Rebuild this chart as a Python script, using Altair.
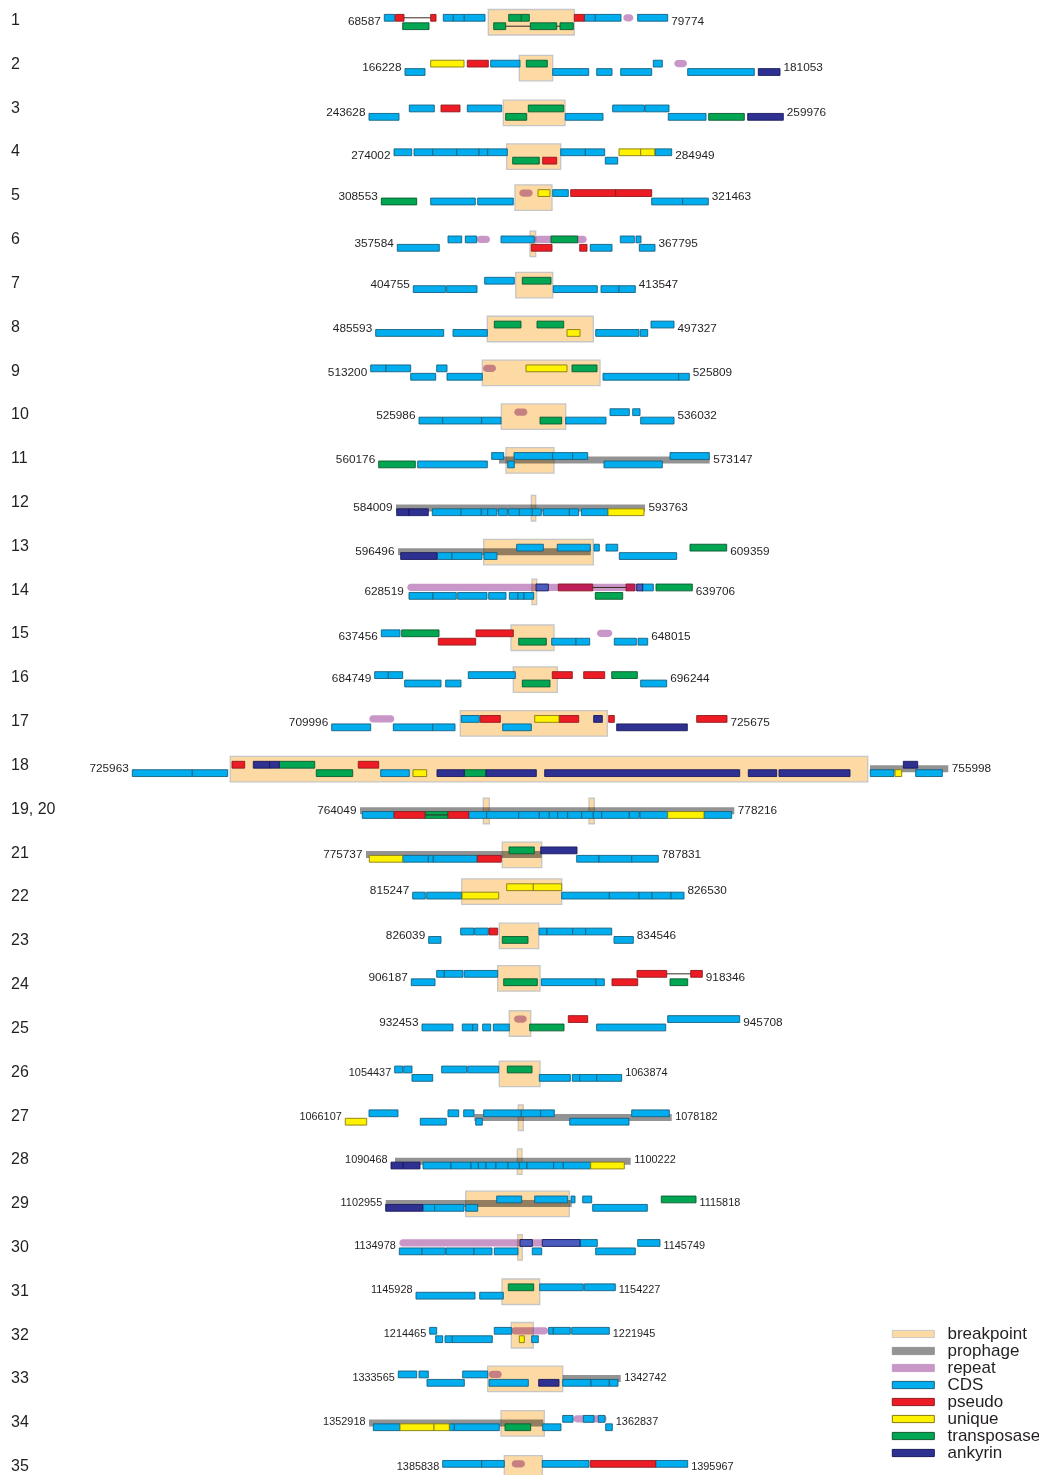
import altair as alt
import pandas as pd

# ---------------- data ----------------
ROW_LABELS = ["1", "2", "3", "4", "5", "6", "7", "8", "9", "10", "11", "12", "13", "14",
              "15", "16", "17", "18", "19, 20", "21", "22", "23", "24", "25", "26", "27",
              "28", "29", "30", "31", "32", "33", "34", "35"]
START_COORD = [68587, 166228, 243628, 274002, 308553, 357584, 404755, 485593, 513200, 525986,
               560176, 584009, 596496, 628519, 637456, 684749, 709996, 725963, 764049, 775737,
               815247, 826039, 906187, 932453, 1054437, 1066107, 1090468, 1102955, 1134978,
               1145928, 1214465, 1333565, 1352918, 1385838]
END_COORD = [79774, 181053, 259976, 284949, 321463, 367795, 413547, 497327, 525809, 536032,
             573147, 593763, 609359, 639706, 648015, 696244, 725675, 755998, 778216, 787831,
             826530, 834546, 918346, 945708, 1063874, 1078182, 1100222, 1115818, 1145749,
             1154227, 1221945, 1342742, 1362837, 1395967]

# (row, strand track, start, end) in aligned map units
CDS = [
    ("1","u",384.3,394.7),("1","u",443.3,453.3),("1","u",453.3,464.3),("1","u",464.3,485),("1","u",584.3,595.3),("1","u",595.3,621),("1","u",637.7,667.7),
    ("2","l",405,425),("2","u",490.7,520),("2","l",552.7,588.7),("2","l",596.7,612),("2","l",620.7,651.7),("2","u",653.3,662.3),("2","l",687.7,754.3),
    ("3","l",369,399),("3","u",409.3,434.3),("3","u",467.3,501.7),("3","l",565.3,603),("3","u",612.7,644.3),("3","u",645,669),("3","l",668.3,706),
    ("4","u",394,411.7),("4","u",414,432.7),("4","u",432.7,456.7),("4","u",456.7,479),("4","u",479,487.7),("4","u",487.7,507.3),("4","u",560.7,585.3),("4","u",585.3,604.7),("4","l",605.3,617.7),("4","u",655,671.7),
    ("5","l",430.7,475.3),("5","l",477.7,513.3),("5","u",552.7,568.3),("5","l",651.7,682.7),("5","l",682.7,708.3),
    ("6","l",397.3,439.3),("6","u",448,461.7),("6","u",465.3,476.7),("6","u",501,534.3),("6","l",590.3,612),("6","u",620.3,634.3),("6","u",636,641),("6","l",639.3,655),
    ("7","l",413.3,445.7),("7","l",446.7,477),("7","u",484.7,514.3),("7","l",553.3,597.3),("7","l",601,619),("7","l",619,635.3),
    ("8","l",375.7,443.7),("8","l",453,487.3),("8","l",595.7,639),("8","l",640.3,647.7),("8","u",651,674),
    ("9","u",370.7,386),("9","u",386,410.7),("9","l",410.7,435.7),("9","u",436.7,447),("9","l",447,482.3),("9","l",603,678.7),("9","l",678.7,689.3),
    ("10","l",419,442.7),("10","l",442.7,481.7),("10","l",481.7,501),("10","l",565.7,606),("10","u",610,629.3),("10","u",632.7,640),("10","l",640.7,674),
    ("11","l",417.7,487.3),("11","u",491.7,503.7),("11","l",507.7,514.3),("11","u",514,552.7),("11","u",552.7,572.7),("11","u",572.7,587.7),("11","l",604,662.3),("11","u",670,709.3),
    ("12","l",432.3,461),("12","l",461,481.3),("12","l",481.3,487.7),("12","l",487.7,497),("12","l",498.3,507.3),("12","l",508.3,519.3),("12","l",519.3,532.3),("12","l",532.3,541.3),("12","l",543,569.3),("12","l",569.3,578.7),("12","l",581.3,608),
    ("13","l",437.3,452),("13","l",452,482),("13","l",484,497),("13","u",516.7,543.3),("13","u",557.3,590.3),("13","u",594,599.3),("13","u",606,617.7),("13","l",619.3,676.7),
    ("14","u",641.7,653.3),("14","l",409,433),("14","l",433,456.3),("14","l",457.7,487),("14","l",488.7,506),("14","l",509.3,518),("14","l",518,524),("14","l",524,533.7),
    ("15","u",381.3,400),("15","l",551.7,576),("15","l",576,589.7),("15","l",614.3,636.3),("15","l",638,647.7),
    ("16","u",374.7,388.3),("16","u",388.3,402.7),("16","l",404.7,441),("16","l",445.7,461),("16","u",468.3,515.3),("16","l",640.7,666.7),
    ("17","l",331.7,370.7),("17","l",393.3,432.7),("17","l",432.7,455),("17","u",461.3,479.3),("17","l",502.7,531.3),
    ("18","l",132.3,192.3),("18","l",192.3,227.7),("18","l",380.7,409.3),("18","l",870.3,894),("18","l",915.7,942.3),
    ("19, 20","l",362.3,393.7),("19, 20","l",468.7,486.7),("19, 20","l",486.7,518.7),("19, 20","l",518.7,539.3),("19, 20","l",539.3,549.3),("19, 20","l",549.3,557.7),("19, 20","l",557.7,567.7),("19, 20","l",567.7,581.7),("19, 20","l",581.7,593.3),("19, 20","l",593.3,601.7),("19, 20","l",601.7,629.3),("19, 20","l",629.3,639.3),("19, 20","l",640,667.7),("19, 20","l",704,731.7),
    ("21","l",402.7,428.3),("21","l",428.3,433.3),("21","l",433.3,477.3),("21","l",576.7,599),("21","l",599,631.7),("21","l",631.7,658.3),
    ("22","l",412.7,425.3),("22","l",426.7,461.7),("22","l",561.7,609.3),("22","l",609.3,639),("22","l",639,652),("22","l",652,671),("22","l",671,684),
    ("23","l",428.7,441),("23","u",460.7,474),("23","u",474.7,488.3),("23","u",539,547),("23","u",547,572.7),("23","u",572.7,585.7),("23","u",585.7,611.7),("23","l",614,633.3),
    ("24","l",411.3,435),("24","u",436.7,444.3),("24","u",444.3,463),("24","u",464.3,497.7),("24","l",541.3,596),("24","l",596,604.3),
    ("25","l",422,453),("25","l",462.3,472.7),("25","l",472.7,477.7),("25","l",482.7,490.7),("25","l",493.3,509.3),("25","l",596.7,665.7),("25","u",667.7,739.7),
    ("26","u",394.7,402.7),("26","u",403.7,412),("26","l",412,432.7),("26","u",441.7,466.7),("26","u",467.7,498.7),("26","l",539.3,570.3),("26","l",572.3,579.7),("26","l",579.7,596.7),("26","l",596.7,621.7),
    ("27","u",369,398),("27","l",420.3,446.3),("27","u",448,458.7),("27","u",463.7,474),("27","l",475.7,482.3),("27","u",483.7,521.3),("27","u",521.3,540.7),("27","u",540.7,554.3),("27","l",569.7,629),("27","u",631.7,669.3),
    ("28","l",423,451),("28","l",451,471),("28","l",471,478.3),("28","l",478.3,486),("28","l",486,496),("28","l",496,508),("28","l",508,519.3),("28","l",519.3,527),("28","l",527,553.7),("28","l",553.7,563.3),("28","l",563.3,590.7),
    ("29","l",423,434.7),("29","l",434.7,464),("29","l",465.7,477.7),("29","u",496.7,521.7),("29","u",534.7,567.7),("29","u",571,575),("29","u",582.7,591.7),("29","l",592.7,647.3),
    ("30","l",399.3,422),("30","l",422,445.3),("30","l",446,474),("30","l",474,492),("30","l",494.3,518),("30","l",532.3,541.7),("30","u",580,597.3),("30","l",595.7,635.3),("30","u",637.7,660),
    ("31","l",416,475),("31","l",479.7,503.3),("31","u",539.7,583.3),("31","u",584.3,615.3),
    ("32","u",429.7,436.7),("32","l",435.7,442.7),("32","l",445,452.3),("32","l",452.3,492.3),("32","u",494.3,511.7),("32","l",531.7,538.3),("32","u",548.7,553.3),("32","u",553.3,570.3),("32","u",571.7,609.3),
    ("33","u",398.3,416.7),("33","u",419,428.3),("33","l",427,464.3),("33","u",462.7,487.7),("33","l",489,528.3),("33","l",562.7,591),("33","l",591,609.3),("33","l",609.3,618),
    ("34","l",373.3,400),("34","l",449.3,454.3),("34","l",454.3,499.3),("34","l",542.7,561),("34","u",562.7,573),("34","u",583.3,594),("34","u",598.3,605),("34","l",605.7,612.3),
    ("35","u",442.7,481.7),("35","u",481.7,504.3),("35","u",542.3,589),("35","u",655.7,687.7),
]
PSEUDO = [
    ("1","u",395.3,404),("1","u",430.7,436),("1","u",574.3,584.3),
    ("2","u",467.3,488.3),("3","u",441,460),("4","l",542.7,556.7),
    ("5","u",570.7,615.7),("5","u",615.7,651.7),
    ("6","l",531.3,552),("6","l",579.7,587),
    ("14","u",558.3,592.7),("14","u",626,634.7),
    ("15","l",438.3,475.7),("15","u",476,513.3),
    ("16","u",552.3,572.3),("16","u",583.7,604.7),
    ("17","u",480.3,500.3),("17","u",559,578.7),("17","u",608.7,614.3),("17","u",696.7,727),
    ("18","u",232,244.7),("18","u",358.3,378.7),
    ("19, 20","l",394.3,425.3),("19, 20","l",447.7,468.7),
    ("21","l",477.3,501.3),("23","u",489,497.7),
    ("24","l",612,637.7),("24","u",637,666.7),("24","u",690.7,702.3),
    ("25","u",568.3,587.7),("35","u",590.3,655.7),
]
UNIQUE = [
    ("2","u",430.7,464),("4","u",619,640.7),("4","u",640.7,654.7),("5","u",538,550),
    ("8","l",567,580),("9","u",526,567),("12","l",608,644),("17","u",534.7,559),
    ("18","l",413,426.7),("18","l",895,901.7),("19, 20","l",667.7,704),("21","l",369.3,402.7),
    ("22","l",462,498.7),("22","u",506.7,533.3),("22","u",533.3,561.7),("27","l",345.3,366.7),
    ("28","l",590.7,624.3),("32","l",519.3,524.3),("34","l",400,434),("34","l",434,449.3),
]
TRANSPOSASE = [
    ("1","u",508.7,521.3),("1","u",521.3,529.3),("1","l",402.7,429),("1","l",493.7,505.7),("1","l",530.3,556.7),("1","l",560,573.3),
    ("2","u",526.3,547.3),("3","u",528.3,563.7),("3","l",505.7,526.7),("3","l",708.7,744.3),
    ("4","l",512.7,539.3),("5","l",381.3,416.7),("6","u",551,577.7),("7","u",522.3,551),
    ("8","u",494.3,521),("8","u",537,563.7),("9","u",572,597),("10","l",540,561.7),
    ("11","l",378.7,415.3),("13","u",690,726.7),("14","u",656,692.3),("14","l",595.3,622.7),
    ("15","u",401.7,439),("15","l",518.7,546.3),("16","l",522.3,550),("16","u",611.7,637.3),
    ("18","u",279.3,314.7),("18","l",316.3,352.7),("18","l",464.3,486),("19, 20","l",425.3,447.7),
    ("21","u",509,534.3),("23","l",502.3,528),("24","l",503.7,537.3),("24","l",670,687.7),
    ("25","l",529.7,564),("26","u",507.3,532),("29","u",661.3,696),("31","u",508.3,533.7),
    ("34","l",505,530.7),
]
ANKYRIN = [
    ("2","l",758.3,780),("3","l",747.7,783.3),("12","l",396.7,409),("12","l",409,428.3),
    ("13","l",400.7,437),("14","u",536,548.3),("14","u",636.7,642.7),
    ("17","u",593.7,602.3),("17","l",616.7,687.3),
    ("18","u",253.3,269.7),("18","u",269.7,279.3),("18","l",437,464.3),("18","l",486,536.3),("18","l",544.7,739.7),("18","l",748.3,776.7),("18","l",779,850),("18","u",903.3,917.7),
    ("21","u",540.7,577),("28","l",391,403.3),("28","l",403.3,420),("29","l",385.7,422.7),
    ("30","u",520,532.3),("30","u",542.3,580),("33","l",538.7,559),
]
# features lying under a long repeat track (drawn with the repeat tint)
UNDER_REPEAT = [("14",536,548.3),("14",558.3,592.7),("14",626,634.7),("14",636.7,642.7),
                ("30",520,532.3),("30",542.3,580)]

BREAKPOINT = [
    ("1",488.3,574.3),("2",519.3,552.7),("3",503.3,565),("4",506.7,560.7),("5",515,552),
    ("6",530,535.7),("7",515.7,552.7),("8",487.3,593.3),("9",482.3,600),("10",501.3,565.7),
    ("11",506,554),("12",531.3,535.7),("13",483.7,593.3),("14",532,536.7),("15",511,554),
    ("16",513.3,557.3),("17",460.3,607.3),("18",230.3,867.7),("19, 20",483.3,489.3),
    ("19, 20",589,594.3),("21",502.3,541.7),("22",461.7,561.7),("23",499.3,538.7),
    ("24",497.7,540),("25",509.3,530.7),("26",499.3,540),("27",518.3,523.3),("28",517.3,522),
    ("29",465.7,569.3),("30",517.7,522.3),("31",502,539.7),("32",511.3,533.3),
    ("33",487.7,562.7),("34",501,544.3),("35",504.3,542.3),
]
PROPHAGE = [
    ("11",499,709.7),("12",396,645),("13",398,590.7),("18",870,948.3),("19, 20",360,734.3),
    ("21",366,541.7),("27",474.3,671.7),("28",395,630.7),("29",385.7,571.7),
    ("33",562.7,620.7),("34",369,543.3),
]
REPEAT = [
    ("1",623.3,633.3),("2",674.3,687),("5",519.3,532.7),("6",476.7,490),("6",534.3,586.7),
    ("9",483,496),("10",514.3,527.3),("14",407.3,641),("15",597,612.3),("17",369.3,394.3),
    ("25",514,526.7),("30",399.3,583.3),("32",511.3,548.3),("33",488.7,501.7),
    ("34",573.3,606.7),("35",511.7,525),
]
LINKS = [
    ("1","u",404,430.7),("1","l",505.7,530.3),("1","l",556.7,560),("14","u",592.7,626),
    ("19, 20","l",425.3,447.7),("24","u",666.7,690.7),
]
LEGEND_NAMES = ["breakpoint", "prophage", "repeat", "CDS", "pseudo", "unique",
                "transposase", "ankyrin"]

# ---------------- styling / layout ----------------
FILL = {"breakpoint": "#FDD9A4", "prophage": "#939393", "repeat": "#C996C8",
        "CDS": "#00AEEF", "pseudo": "#ED1C24", "unique": "#FFF200",
        "transposase": "#00A651", "ankyrin": "#2E3192"}
EDGE = {"CDS": "#16607F", "pseudo": "#8E1A1E", "unique": "#857A12",
        "transposase": "#0C5A30", "ankyrin": "#181A5A"}
TINT = {"ankyrin": "#4A5DBE", "pseudo": "#BE1E5A"}

ROW0, ROW_STEP = 22.0, 43.82          # page y of first row centre, row spacing
# small vertical nudges (px) of individual panels relative to the regular grid
NUDGE = {"2": 2, "3": 3, "4": 3, "6": 2.5, "12": 4, "13": 4, "15": 2, "18": 2,
         "22": -7, "23": -6.5, "24": -8, "25": -6.6, "29": -1.5, "30": -1.8,
         "31": -1.3, "32": -1.6, "33": -1.8, "34": -1.2}
W, H = 1031, 1467
FONT = "Liberation Sans"
TXT = "#231F20"

slot = {lab: i for i, lab in enumerate(ROW_LABELS)}


def grid(row):
    return ROW0 + ROW_STEP * slot[row]


def centre(row):
    return grid(row) + NUDGE.get(row, 0)


TRACK = {"u": (-7.6, -0.8), "l": (0.8, 7.6)}

recs = []
for cat, lst in [("CDS", CDS), ("pseudo", PSEUDO), ("unique", UNIQUE),
                 ("transposase", TRANSPOSASE), ("ankyrin", ANKYRIN)]:
    for row, tr, a, b in lst:
        c = centre(row)
        fill = FILL[cat]
        if (row, a, b) in UNDER_REPEAT:
            fill = TINT[cat]
        recs.append(dict(cat=cat, x=a, x2=b, y=c + TRACK[tr][0], y2=c + TRACK[tr][1],
                         fill=fill, edge=EDGE[cat]))
boxes = pd.DataFrame(recs)

bp = pd.DataFrame([dict(x=a, x2=b, y=centre(r) - 12.5, y2=centre(r) + 13.0)
                   for r, a, b in BREAKPOINT])
ph = pd.DataFrame([dict(x=a, x2=b, y=centre(r) - 3.6, y2=centre(r) + 3.4)
                   for r, a, b in PROPHAGE])
rp = pd.DataFrame([dict(x=a, x2=b, y=centre(r) - 7.8, y2=centre(r) - 0.6)
                   for r, a, b in REPEAT])
lk = pd.DataFrame([dict(x=a, x2=b, y=centre(r) + (-4.2 if t == "u" else 4.2))
                   for r, t, a, b in LINKS])

# coordinate labels derived from each row's extent
allx = pd.concat([
    pd.DataFrame([(r, a, b) for r, _, a, b in CDS + PSEUDO + UNIQUE + TRANSPOSASE + ANKYRIN],
                 columns=["row", "a", "b"]),
    pd.DataFrame(PROPHAGE + REPEAT + BREAKPOINT, columns=["row", "a", "b"]),
])
ext = allx.groupby("row").agg(a=("a", "min"), b=("b", "max"))
lab_recs_l, lab_recs_r, num_recs = [], [], []
for i, r in enumerate(ROW_LABELS):
    c = centre(r)
    s, e = str(START_COORD[i]), str(END_COORD[i])
    lab_recs_l.append(dict(x=ext.loc[r, "a"] - 3.5, y=c - 1, t=s, fs=10.9 if len(s) > 6 else 11.8))
    lab_recs_r.append(dict(x=ext.loc[r, "b"] + 3.5, y=c - 1, t=e, fs=10.9 if len(e) > 6 else 11.8))
    num_recs.append(dict(x=11, y=grid(r) - 2, t=r))
labL, labR, nums = pd.DataFrame(lab_recs_l), pd.DataFrame(lab_recs_r), pd.DataFrame(num_recs)

# legend
LEG_X0, LEG_X1, LEG_TX, LEG_Y0, LEG_DY = 892.3, 934.3, 947.5, 1334.0, 17.0
leg = pd.DataFrame([dict(name=n, fill=FILL[n], edge=EDGE.get(n, "#C9C9C9" if n == "breakpoint" else FILL[n]),
                         x=LEG_X0, x2=LEG_X1, y=LEG_Y0 + i * LEG_DY - 3.6, y2=LEG_Y0 + i * LEG_DY + 3.6,
                         ty=LEG_Y0 + i * LEG_DY - 0.5, tx=LEG_TX)
                    for i, n in enumerate(LEGEND_NAMES)])

XS = alt.Scale(domain=[8, 8 + W], nice=False, zero=False)
YS = alt.Scale(domain=[8, 8 + H], nice=False, zero=False, reverse=True)


def X(f="x"):
    return alt.X(f"{f}:Q", scale=XS, axis=None)


def Y(f="y"):
    return alt.Y(f"{f}:Q", scale=YS, axis=None)


prophage_l = alt.Chart(ph).mark_rect(fill=FILL["prophage"]).encode(
    x=X(), x2="x2", y=Y(), y2="y2")
repeat_l = alt.Chart(rp).mark_rect(fill=FILL["repeat"], cornerRadius=3.6).encode(
    x=X(), x2="x2", y=Y(), y2="y2")
bp_l = alt.Chart(bp).mark_rect(fill=FILL["breakpoint"], stroke="#C6C6C6", strokeWidth=1.3,
                               blend="multiply").encode(x=X(), x2="x2", y=Y(), y2="y2")
box_l = alt.Chart(boxes).mark_rect(strokeWidth=0.9).encode(
    x=X(), x2="x2", y=Y(), y2="y2",
    fill=alt.Fill("fill:N", scale=None), stroke=alt.Stroke("edge:N", scale=None))
link_l = alt.Chart(lk).mark_rule(color="#3A2A20", strokeWidth=1).encode(
    x=X(), x2="x2", y=Y())
txtL = alt.Chart(labL).mark_text(align="right", baseline="middle", font=FONT, color=TXT).encode(
    x=X(), y=Y(), text="t:N", size=alt.Size("fs:Q", scale=None))
txtR = alt.Chart(labR).mark_text(align="left", baseline="middle", font=FONT, color=TXT).encode(
    x=X(), y=Y(), text="t:N", size=alt.Size("fs:Q", scale=None))
num_l = alt.Chart(nums).mark_text(align="left", baseline="middle", font=FONT, fontSize=16,
                                  color=TXT).encode(x=X(), y=Y(), text="t:N")
leg_sw = alt.Chart(leg).mark_rect(strokeWidth=1).encode(
    x=X(), x2="x2", y=Y(), y2="y2",
    fill=alt.Fill("fill:N", scale=None), stroke=alt.Stroke("edge:N", scale=None))
leg_tx = alt.Chart(leg).mark_text(align="left", baseline="middle", font=FONT, fontSize=17,
                                  color=TXT).encode(x=X("tx"), y=Y("ty"), text="name:N")

chart = alt.layer(prophage_l, repeat_l, bp_l, box_l, link_l, txtL, txtR, num_l, leg_sw, leg_tx
                  ).properties(width=W, height=H, autosize=alt.AutoSizeParams(type="none"),
                               padding=0, background="white"
                  ).configure_view(stroke=None)

chart.save("out.html", embed_options={"renderer": "svg", "actions": False})
